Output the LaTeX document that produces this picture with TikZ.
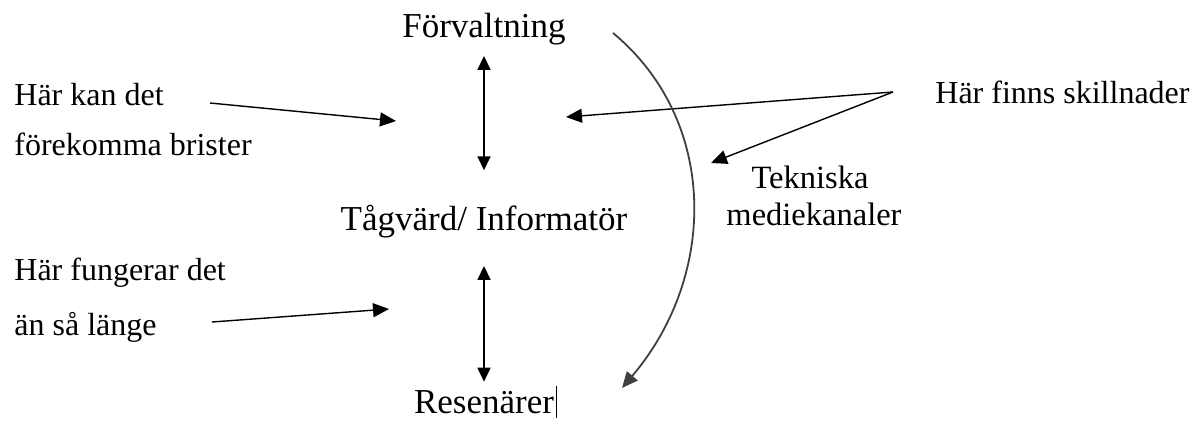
\documentclass[tikz,border=0pt]{standalone}
\usepackage{fontspec}
\setmainfont{Liberation Serif}
\usetikzlibrary{arrows.meta}

\begin{document}
\begin{tikzpicture}[x=0.5pt,y=-0.5pt,
    level/.style={font=\fontsize{17.5}{21}\selectfont,anchor=base,inner sep=2pt},
    remark/.style={font=\fontsize{16}{19}\selectfont,anchor=base west,inner sep=2pt},
    channel/.style={font=\fontsize{16.25}{19}\selectfont,anchor=base,inner sep=2pt},
    pointer/.style={line width=0.7pt,-{Triangle[length=8pt,width=7pt]}},
    twoway/.style={line width=0.9pt,{Triangle[length=7pt,width=6.5pt]}-{Triangle[length=7pt,width=6.5pt]}}]
    \useasboundingbox (0,0) rectangle (1194,423);

    % nodes
    \node (forv) at (484,38) [level] {Förvaltning};
    \node (tag) at (484,230) [level] {Tågvärd/ Informatör};
    \node (res) at (484,413) [level] {Resenärer};
    \node (kan1) at (10,105) [remark] {Här kan det};
    \node (kan2) at (10,155) [remark] {förekomma brister};
    \node (fung1) at (10,280) [remark] {Här fungerar det};
    \node (fung2) at (10,335) [remark] {än så länge};
    \node (finns) at (931,103) [remark] {Här finns skillnader};
    \node (tek1) at (810,188) [channel] {Tekniska};
    \node (tek2) at (814,225) [channel] {mediekanaler};

    % free ends
    \coordinate (kanA) at (210,103);
    \coordinate (kanB) at (396,121);
    \coordinate (fungA) at (212,322);
    \coordinate (fungB) at (389,309);
    \coordinate (fin) at (893,92);
    \coordinate (finB) at (566,117);
    \coordinate (finC) at (711,163);
    \coordinate (crvA) at (613,33);
    \coordinate (crvB) at (622,388);

    % paths
    \draw[twoway,shorten <=3pt,shorten >=15pt] (forv.south) -- (tag.north); % F <-> T
    \draw[twoway,shorten <=12pt,shorten >=2pt] (tag.south) -- (res.north); % T <-> R
    \draw[pointer] (kanA) -- (kanB);
    \draw[pointer] (fungA) -- (fungB);
    \draw[pointer] (fin) -- (finB);
    \draw[pointer] (fin) -- (finC);
    \draw[pointer,draw=black!75,line width=0.9pt] (crvA) .. controls (718,120) and (718,275) .. (crvB);
    \draw[line width=0.6pt] ([xshift=-1pt]res.east) ++(0,-16) -- ++(0,32); % cursor mark

\end{tikzpicture}
\end{document}
